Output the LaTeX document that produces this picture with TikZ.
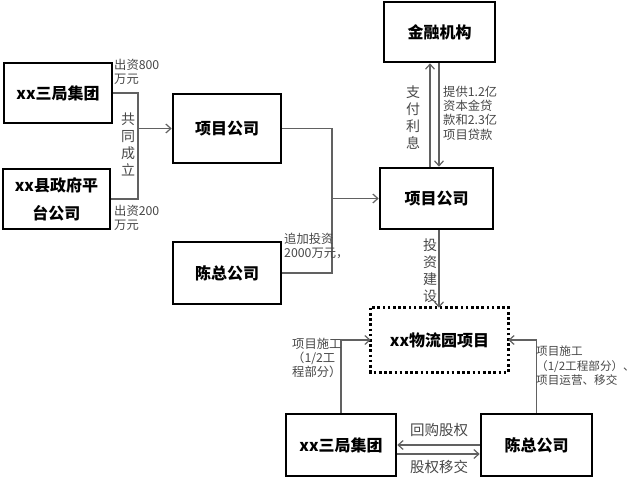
\documentclass[tikz,border=0pt]{standalone}
\usepackage{fontspec}
\setmainfont{Noto Sans CJK SC}
\usetikzlibrary{arrows.meta}
\begin{document}
\begin{tikzpicture}[x=1pt,y=-1pt,
  box/.style={draw=black,line width=2.6pt,minimum width=#1,inner sep=0pt,font=\fontsize{16}{28}\selectfont\bfseries,align=center},
  box/.default=108pt,
  conn/.style={draw=black!62,line width=1.3pt},
  arr/.style={conn,-{Straight Barb[length=5pt,width=9pt,line width=1.2pt]}},
  lbl/.style={text=black!72,font=\fontsize{12.3}{14.2}\selectfont,align=left,inner sep=0pt},
  vlbl/.style={text=black!72,font=\fontsize{14}{17}\selectfont,align=center,inner sep=0pt},
  blbl/.style={text=black!72,font=\fontsize{14.5}{17}\selectfont,inner sep=0pt}]
\useasboundingbox (0,0) rectangle (640,493);
% boxes
\node[box=108pt,minimum height=60pt] (A) at (58,93) {xx三局集团};
\node[box=107pt,minimum height=60pt] (B) at (56.5,199) {xx县政府平\\台公司};
\node[box=108pt,minimum height=69pt] (C) at (227,128.5) {项目公司};
\node[box=111pt,minimum height=60pt] (D) at (439.5,32) {金融机构};
\node[box=113pt,minimum height=61pt] (E) at (436.5,198.5) {项目公司};
\node[box=108pt,minimum height=62pt] (F) at (227,273) {陈总公司};
\node[box=135pt,minimum height=62pt,draw=none] (G) at (439.5,340) {xx物流园项目};
\draw[line width=2.6pt,dash pattern=on 2.6pt off 2.6pt] (G.north west) rectangle (G.south east);
\node[box=110pt,minimum height=62pt] (H) at (341,445) {xx三局集团};
\node[box=111pt,minimum height=62pt] (I) at (536.5,445) {陈总公司};
% helper coordinates
\coordinate (j1) at (138,128.5);
\coordinate (j2) at (332,198.5);
\coordinate (xl) at (430,0);
\coordinate (xr) at (439,0);
% connectors
\draw[conn] (A.east) -| (j1) |- (B.east);
\draw[arr] (j1) -- (C.west);
\draw[conn] (C.east) -| (j2);
\draw[conn] (F.east) -| (j2);
\draw[arr] (j2) -- (E.west);
\draw[arr] (E.north -| xl) -- (D.south -| xl);
\draw[arr] (D.south -| xr) -- (E.north -| xr);
\draw[arr] (E.south -| xr) -- (G.north -| xr);
\draw[arr] (H.north) |- (G.west);
\draw[arr] (I.north) |- (G.east);
\draw[arr] (I.west) -- (H.east);
\draw[arr] ([yshift=-9pt]H.east) -- ([yshift=-9pt]I.west);
% labels
\node[lbl,anchor=north west] (l1) at (114,59) {出资800\\万元};
\node[lbl,anchor=north west] (l2) at (114,205) {出资200\\万元};
\node[vlbl] (l3) at (128,144) {共\\同\\成\\立};
\node[vlbl] (l4) at (413,118) {支\\付\\利\\息};
\node[lbl,anchor=north west] (l5) at (443,86) {提供1.2亿\\资本金贷\\款和2.3亿\\项目贷款};
\node[lbl,anchor=north west] (l6) at (284,233) {追加投资\\2000万元，};
\node[vlbl] (l7) at (430,271) {投\\资\\建\\设};
\node[lbl,anchor=north west] (l8) at (292,338) {项目施工\\（1/2工\\程部分）};
\node[lbl,anchor=north west,font=\fontsize{11.6}{14.2}\selectfont] (l9) at (536,346) {项目施工\\（1/2工程部分）、\\项目运营、移交};
\node[blbl] (l10) at (439,430) {回购股权};
\node[blbl] (l11) at (439,467) {股权移交};
\end{tikzpicture}
\end{document}
